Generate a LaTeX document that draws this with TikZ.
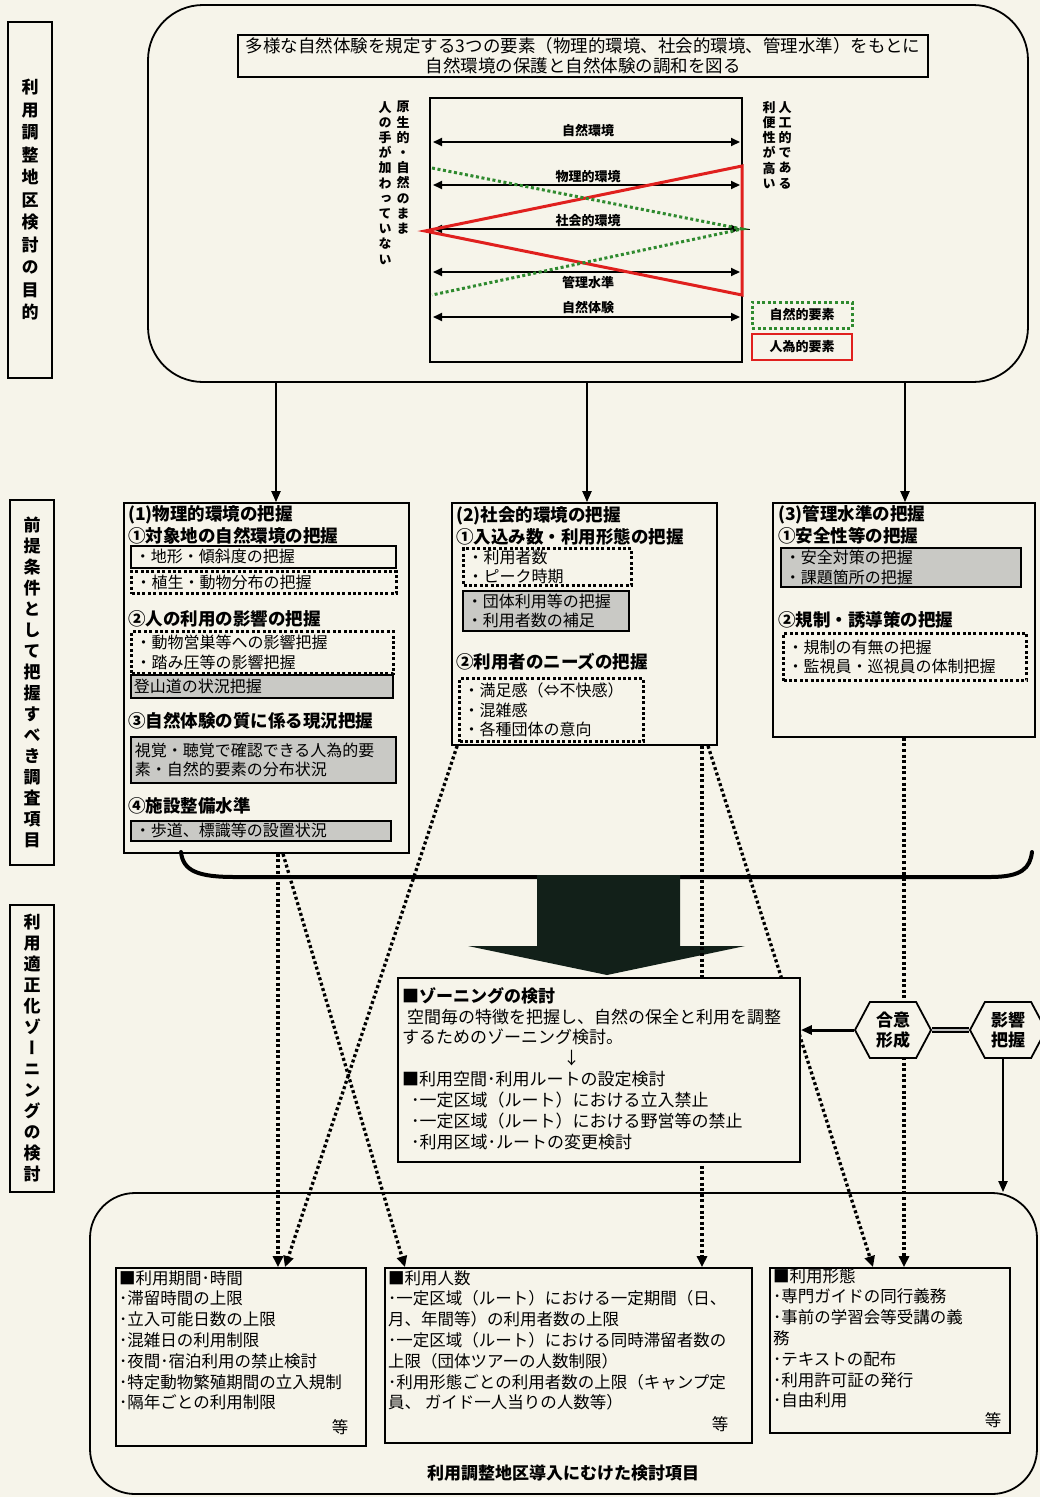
\documentclass[tikz,border=0pt]{standalone}
\usepackage{fontspec}
\setmainfont{Noto Sans CJK JP}
\newfontfamily\jpv[RawFeature=+vert]{Noto Sans CJK JP}
\usetikzlibrary{arrows.meta,shapes.geometric,shapes.symbols,fit,calc}
\definecolor{paper}{HTML}{F6F4EA}
\definecolor{rd}{HTML}{E0201E}
\definecolor{gn}{HTML}{2F8A2F}
\definecolor{boxgray}{HTML}{C9C9C5}
\definecolor{arrowdark}{HTML}{122019}
\newcommand\itemfont{\fontsize{16}{19.5}\selectfont}
\newcommand\botfont{\fontsize{16.5}{20.8}\selectfont}
\makeatletter
\def\VT#1{\VT@first#1\@nil}
\def\VT@first#1{#1\VT@rest}
\def\VT@rest#1{\ifx\@nil#1\else\\#1\expandafter\VT@rest\fi}
\makeatother
\begin{document}
\begin{tikzpicture}[x=1pt,y=-1pt,
  every node/.style={inner sep=0pt},
  frame/.style={draw, line width=1.7pt, inner sep=0pt},
  sbox/.style={draw, line width=1.5pt, anchor=north west, inner xsep=4pt, inner ysep=0pt, align=left, font=\itemfont},
  dbox/.style={sbox, line width=3.2pt, dash pattern=on 3pt off 2.4pt},
  gbox/.style={sbox, fill=boxgray},
  hd/.style={anchor=west, font=\bfseries\fontsize{17.5}{21}\selectfont},
  vlab/.style={align=center, font=\jpv\bfseries\fontsize{17}{21}\selectfont},
  clab/.style={font=\bfseries\fontsize{13}{15}\selectfont},
  cvert/.style={anchor=north, align=center, font=\jpv\bfseries\fontsize{13}{15.2}\selectfont},
  dconn/.style={line width=3.3pt, dash pattern=on 3pt off 2.6pt, -{Triangle[length=11pt,width=10pt]}},
  conn/.style={line width=2pt, -{Triangle[length=11pt,width=9pt]}},
  hexa/.style={draw, fill=paper, line width=1.8pt, signal, signal to=west and east, signal pointer angle=124, minimum width=76pt, minimum height=56pt, align=center, font=\bfseries\fontsize{17}{20}\selectfont},
]
\fill[paper] (0,0) rectangle (1040,1497);
\useasboundingbox (0,0) rectangle (1040,1497);

% ---------- left vertical labels
\node[frame, minimum width=44pt, minimum height=356pt, vlab, font=\jpv\bfseries\fontsize{17}{22.5}\selectfont] (L1) at (30,200) {\VT{利用調整地区検討の目的}};
\node[frame, minimum width=44pt, minimum height=365pt, vlab] (L2) at (32,682.5) {\VT{前提条件として把握すべき調査項目}};
\node[frame, minimum width=44pt, minimum height=287pt, vlab] (L3) at (32,1048.5) {\VT{利用適正化ゾーニングの検討}};

% ---------- top frame
\node[draw, line width=1.8pt, rounded corners=55pt, fit={(148,5) (1028,382)}] (top) {};
\node[draw, line width=1.5pt, minimum width=690pt, minimum height=42pt, align=center, font=\fontsize{17.5}{20.5}\selectfont] (title) at (583,56)
  {多様な自然体験を規定する3つの要素（物理的環境、社会的環境、管理水準）をもとに\\自然環境の保護と自然体験の調和を図る};

% chart
\node[draw, line width=1.5pt, fit={(430,98) (742,362)}] (chart) {};
\foreach \yy in {142,185,229,272,317}
  \draw[line width=2pt, {Triangle[length=9pt,width=8pt]}-{Triangle[length=9pt,width=8pt]}] (433,\yy) -- (740,\yy);
\draw[line width=1pt] (740,229) -- (750,229);
\draw[rd, line width=3pt, line join=miter] (425,231) -- (742,166) -- (742,295) -- cycle;
\draw[gn, line width=3pt, dash pattern=on 3pt off 2.6pt] (432,168) -- (742,229) -- (432,295);
\node[clab] (c1) at (588,131) {自然環境};
\node[clab] (c2) at (588,177) {物理的環境};
\node[clab] (c3) at (588,221) {社会的環境};
\node[clab] (c4) at (588,283) {管理水準};
\node[clab] (c5) at (588,308) {自然体験};
\node[cvert] (v1) at (403,101) {\VT{原生的・自然のまま}};
\node[cvert] (v2) at (385,101) {\VT{人の手が加わっていない}};
\node[cvert] (v3) at (785,101) {\VT{人工的である}};
\node[cvert] (v4) at (769,101) {\VT{利便性が高い}};
\node[clab, draw=gn, line width=3pt, dash pattern=on 3pt off 2.6pt, minimum width=100pt, minimum height=26pt] (lg1) at (802,315) {自然的要素};
\node[clab, draw=rd, line width=2.5pt, minimum width=100pt, minimum height=26pt] (lg2) at (802,347) {人為的要素};

% ---------- survey boxes
\node[frame, fit={(124,503) (409,853)}] (b1) {};
\node[frame, fit={(452,503) (717,745)}] (b2) {};
\node[frame, fit={(773,503) (1035,737)}] (b3) {};

\coordinate (a1) at ([xshift=9.5pt]b1.north);
\coordinate (a2) at ([xshift=2.5pt]b2.north);
\coordinate (a3) at ([xshift=1pt]b3.north);
\draw[conn] (top.south -| a1) -- (a1);
\draw[conn] (top.south -| a2) -- (a2);
\draw[conn] (top.south -| a3) -- (a3);

% box 1
\node[hd] (h11) at (128,515) {(1)物理的環境の把握};
\node[hd] (h12) at (128,536) {①対象地の自然環境の把握};
\node[sbox, text width=257pt, minimum height=22pt] (i11) at (130,545) {・地形・傾斜度の把握};
\node[dbox, text width=257pt, minimum height=22pt] (i12) at (130,570) {・植生・動物分布の把握};
\node[hd] (h13) at (128,619) {②人の利用の影響の把握};
\node[dbox, text width=254pt, minimum height=42pt] (i13) at (130,630) {・動物営巣等への影響把握\\・踏み圧等の影響把握};
\node[gbox, text width=256pt, inner xsep=3pt, minimum height=23pt] (i14) at (130,674) {登山道の状況把握};
\node[hd] (h14) at (128,721) {③自然体験の質に係る現況把握};
\node[gbox, text width=257pt, minimum height=46pt] (i15) at (130,736) {視覚・聴覚で確認できる人為的要\\素・自然的要素の分布状況};
\node[hd] (h15) at (128,806) {④施設整備水準};
\node[gbox, text width=252pt, minimum height=20pt] (i16) at (130,820) {・歩道、標識等の設置状況};

% box 2
\node[hd] (h21) at (456,516) {(2)社会的環境の把握};
\node[hd] (h22) at (456,537) {①入込み数・利用形態の把握};
\node[dbox, text width=160pt, minimum height=37pt] (i21) at (462,547) {・利用者数\\・ピーク時期};
\node[gbox, text width=158pt, minimum height=40pt] (i22) at (462,590) {・団体利用等の把握\\・利用者数の補足};
\node[hd] (h23) at (456,662) {②利用者のニーズの把握};
\node[dbox, text width=176pt, minimum height=63pt] (i23) at (458,677) {・満足感（⇔不快感）\\・混雑感\\・各種団体の意向};

% box 3
\node[hd] (h31) at (778,515) {(3)管理水準の把握};
\node[hd] (h32) at (778,536) {①安全性等の把握};
\node[gbox, text width=232pt, minimum height=39pt] (i31) at (780,547) {・安全対策の把握\\・課題箇所の把握};
\node[hd] (h33) at (778,620) {②規制・誘導策の把握};
\node[dbox, text width=235pt, minimum height=47pt] (i32) at (782,632) {・規制の有無の把握\\・監視員・巡視員の体制把握};

% ---------- bottom frame and boxes
\node[draw, line width=1.8pt, rounded corners=45pt, fit={(90,1193) (1037,1494)}] (bot) {};
\node[frame, fit={(116,1268) (366,1446)}] (A) {};
\node[frame, fit={(385,1268) (752,1443)}] (B) {};
\node[frame, fit={(770,1268) (1010,1433)}] (C) {};

% ---------- brace and big arrow
\draw[line width=4pt, line cap=round] (181,852) .. controls (183,871) and (198,877) .. (235,877) -- (990,877) .. controls (1022,877) and (1030,868) .. (1032,852);
\fill[arrowdark] (537,875) -- (680,875) -- (680,946) -- (745,946) -- (607,975) -- (468,946) -- (537,946) -- cycle;

% ---------- dotted connectors
\coordinate (s1) at ([xshift=11.5pt]b1.south);
\coordinate (s2) at ([xshift=16.5pt]b1.south);
\coordinate (t2) at ([xshift=-163.5pt]B.north);
\coordinate (s3) at ([xshift=6pt]b2.south west);
\coordinate (t3) at ([xshift=44pt]A.north);
\coordinate (s4) at ([xshift=117.5pt]b2.south);
\coordinate (s5) at ([xshift=123.5pt]b2.south);
\coordinate (t5) at ([xshift=-17pt]C.north);
\coordinate (s6) at (b3.south);
\draw[dconn] (s1) -- (s1 |- A.north);
\draw[dconn] (s2) -- (t2);
\draw[dconn] (s3) -- (t3);
\draw[dconn] (s4) -- (s4 |- B.north);
\draw[dconn] (s5) -- (t5);
\draw[dconn] (s6) -- (s6 |- C.north);

% ---------- zoning box
\node[frame, fill=paper, fit={(398,978) (800,1162)}] (zon) {};
\node[anchor=north west, align=left, font=\fontsize{17}{20.9}\selectfont] (ztxt) at (402,987)
  {{\bfseries ■ゾーニングの検討}\\
   \hspace*{5pt}空間毎の特徴を把握し、自然の保全と利用を調整\\
   するためのゾーニング検討。\\
   \hspace*{161pt}↓\\
   {\bfseries ■}利用空間･利用ルートの設定検討\\
   \hspace*{9pt}･一定区域（ルート）における立入禁止\\
   \hspace*{9pt}･一定区域（ルート）における野営等の禁止\\
   \hspace*{9pt}･利用区域･ルートの変更検討};

% ---------- hexagons
\node[hexa] (h1) at (893,1030) {合意\\形成};
\node[hexa] (h2) at (1008,1030) {影響\\把握};
\draw[conn, line width=3pt] (h1.west) -- (h1.west -| zon.east);
\draw[line width=2pt, double=gray!50, double distance=1.2pt] (h1.east) -- (h2.west);
\coordinate (hs) at ([xshift=-5pt]h2.south);
\draw[conn] (hs) -- (hs |- bot.north);

% ---------- bottom texts
\node[anchor=north west, align=left, font=\botfont] (ta) at (119,1270)
  {{\bfseries ■}利用期間･時間\\･滞留時間の上限\\･立入可能日数の上限\\･混雑日の利用制限\\･夜間･宿泊利用の禁止検討\\･特定動物繁殖期間の立入規制\\･隔年ごとの利用制限};
\node[font=\botfont] (ea) at (340,1427) {等};
\node[anchor=north west, align=left, font=\botfont] (tb) at (388,1270)
  {{\bfseries ■}利用人数\\･一定区域（ルート）における一定期間（日、\\月、年間等）の利用者数の上限\\･一定区域（ルート）における同時滞留者数の\\上限（団体ツアーの人数制限）\\･利用形態ごとの利用者数の上限（キャンプ定\\員、 ガイド一人当りの人数等）};
\node[font=\botfont] (eb) at (720,1424) {等};
\node[anchor=north west, align=left, font=\botfont] (tc) at (773,1268)
  {{\bfseries ■}利用形態\\･専門ガイドの同行義務\\･事前の学習会等受講の義\\務\\･テキストの配布\\･利用許可証の発行\\･自由利用};
\node[font=\botfont] (ec) at (993,1420) {等};
\node[font=\bfseries\fontsize{17}{20}\selectfont] (foot) at (563,1473) {利用調整地区導入にむけた検討項目};
\end{tikzpicture}
\end{document}
